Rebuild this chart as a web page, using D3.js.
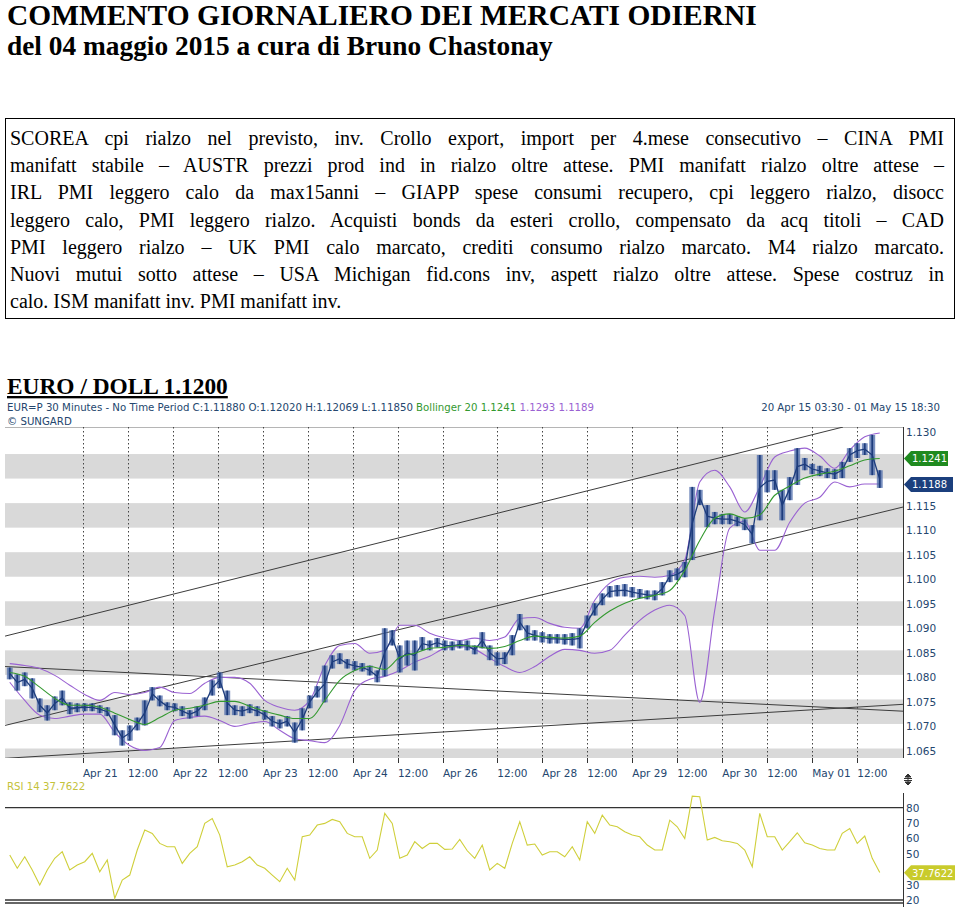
<!DOCTYPE html>
<html>
<head>
<meta charset="utf-8">
<script src="https://cdn.jsdelivr.net/npm/d3@7"></script>
<style>
body { margin: 0; background: #fff; }
</style>
</head>
<body>
<script>
// ---- data ----
var titleLines = ["COMMENTO GIORNALIERO DEI MERCATI ODIERNI", "del 04 maggio 2015 a cura di Bruno Chastonay"];
var bodyLines = [
  "SCOREA cpi rialzo nel previsto, inv. Crollo export, import per 4.mese consecutivo \u2013 CINA PMI",
  "manifatt stabile \u2013 AUSTR prezzi prod ind in rialzo oltre attese. PMI manifatt rialzo oltre attese \u2013",
  "IRL PMI leggero calo da max15anni \u2013 GIAPP spese consumi recupero, cpi leggero rialzo, disocc",
  "leggero calo, PMI leggero rialzo. Acquisti bonds da esteri crollo, compensato da acq titoli \u2013 CAD",
  "PMI leggero rialzo \u2013 UK PMI calo marcato, crediti consumo rialzo marcato. M4 rialzo marcato.",
  "Nuovi mutui sotto attese \u2013 USA Michigan fid.cons inv, aspett rialzo oltre attese. Spese costruz in",
  "calo. ISM manifatt inv. PMI manifatt inv."
];
var sectionTitle = "EURO / DOLL 1.1200";

// x axis: 30-minute bar index (20 Apr 03:30 = 0)
var tickIdx = [41, 65, 89, 113, 137, 161, 185, 209, 233, 262, 286, 310, 334, 358, 382, 406, 430, 454];
var tickLabels = ["Apr 21", "12:00", "Apr 22", "12:00", "Apr 23", "12:00", "Apr 24", "12:00", "Apr 26",
  "12:00", "Apr 28", "12:00", "Apr 29", "12:00", "Apr 30", "12:00", "May 01", "12:00"];
var priceTicks = [1.130, 1.125, 1.120, 1.115, 1.110, 1.105, 1.100, 1.095, 1.090, 1.085, 1.080, 1.075, 1.070, 1.065];
var rsiTicks = [80, 70, 60, 50, 40, 30, 20];

// 2-hour highs / lows (4 bars each)
var hi = [1.0815,1.0801,1.0805,1.0793,1.0752,1.0738,1.0756,1.0768,1.0744,1.0742,
  1.0742,1.0742,1.0738,1.0734,1.0718,1.0687,1.0697,1.0713,1.0748,1.0775,
  1.0758,1.0744,1.0742,1.0736,1.0728,1.0736,1.0754,1.0789,1.0805,1.0768,
  1.0738,1.0736,1.0740,1.0736,1.0728,1.0716,1.0709,1.0716,1.0703,1.0732,
  1.0758,1.0777,1.0819,1.0840,1.0844,1.0832,1.0828,1.0824,1.0819,1.0809,
  1.0895,1.0891,1.0860,1.0870,1.0870,1.0877,1.0870,1.0875,1.0870,1.0868,
  1.0870,1.0870,1.0860,1.0887,1.0860,1.0846,1.0846,1.0881,1.0924,1.0901,
  1.0891,1.0887,1.0883,1.0883,1.0883,1.0885,1.0895,1.0921,1.0946,1.0966,
  1.0981,1.0983,1.0985,1.0979,1.0975,1.0972,1.0972,1.0989,1.1013,1.1017,
  1.1030,1.1183,1.1177,1.1146,1.1132,1.1128,1.1128,1.1123,1.1117,1.1105,
  1.1248,1.1217,1.1217,1.1177,1.1203,1.1262,1.1242,1.1230,1.1226,1.1221,
  1.1219,1.1234,1.1262,1.1272,1.1272,1.1289,1.1217];
var lo = [1.0791,1.0768,1.0777,1.0752,1.0724,1.0707,1.0728,1.0738,1.0720,1.0724,
  1.0726,1.0726,1.0722,1.0716,1.0677,1.0656,1.0666,1.0687,1.0697,1.0748,
  1.0736,1.0728,1.0726,1.0716,1.0711,1.0716,1.0728,1.0758,1.0773,1.0718,
  1.0718,1.0716,1.0722,1.0716,1.0709,1.0695,1.0691,1.0695,1.0662,1.0687,
  1.0732,1.0754,1.0744,1.0813,1.0822,1.0813,1.0809,1.0807,1.0799,1.0785,
  1.0797,1.0860,1.0805,1.0819,1.0809,1.0850,1.0850,1.0856,1.0850,1.0850,
  1.0854,1.0850,1.0842,1.0854,1.0830,1.0819,1.0822,1.0840,1.0891,1.0870,
  1.0870,1.0866,1.0864,1.0864,1.0862,1.0860,1.0854,1.0895,1.0921,1.0942,
  1.0958,1.0960,1.0960,1.0958,1.0956,1.0954,1.0952,1.0962,1.0989,1.0993,
  1.0999,1.1034,1.1146,1.1101,1.1107,1.1107,1.1107,1.1103,1.1095,1.1068,
  1.1115,1.1172,1.1177,1.1115,1.1156,1.1187,1.1217,1.1209,1.1205,1.1201,
  1.1199,1.1201,1.1234,1.1242,1.1248,1.1207,1.1181];

// Bollinger 20, every 4 hours (8 bars)
var bbUpper = [1.0823,1.0819,1.0813,1.0799,1.0779,1.0760,1.0748,1.0764,1.0760,1.0764,
  1.0775,1.0764,1.0762,1.0783,1.0795,1.0795,1.0783,1.0748,1.0734,1.0728,
  1.0748,1.0819,1.0860,1.0864,1.0844,1.0850,1.0901,1.0901,1.0885,1.0875,
  1.0870,1.0875,1.0870,1.0877,1.0915,1.0917,1.0905,1.0897,1.0895,1.0952,
  1.0987,1.0999,1.1001,1.0999,1.1003,1.1034,1.1193,1.1217,1.1183,1.1132,
  1.1183,1.1244,1.1256,1.1262,1.1246,1.1221,1.1258,1.1285,1.1293];
var bbMid = [1.0805,1.0797,1.0775,1.0752,1.0738,1.0738,1.0734,1.0722,1.0709,1.0699,
  1.0713,1.0728,1.0732,1.0738,1.0746,1.0746,1.0736,1.0726,1.0718,1.0711,
  1.0711,1.0748,1.0789,1.0809,1.0817,1.0811,1.0836,1.0844,1.0854,1.0856,
  1.0860,1.0858,1.0854,1.0858,1.0870,1.0879,1.0877,1.0875,1.0879,1.0907,
  1.0930,1.0946,1.0956,1.0962,1.0972,1.1013,1.1074,1.1119,1.1128,1.1119,
  1.1126,1.1166,1.1185,1.1201,1.1209,1.1215,1.1226,1.1238,1.1241];
var bbLower = [1.0785,1.0748,1.0718,1.0711,1.0716,1.0720,1.0720,1.0683,1.0656,1.0646,
  1.0652,1.0707,1.0713,1.0716,1.0707,1.0695,1.0701,1.0705,1.0687,1.0670,
  1.0666,1.0662,1.0697,1.0768,1.0791,1.0797,1.0809,1.0826,1.0838,1.0854,
  1.0858,1.0852,1.0834,1.0817,1.0805,1.0817,1.0838,1.0852,1.0850,1.0844,
  1.0850,1.0881,1.0911,1.0932,1.0942,1.0921,1.0744,1.0932,1.1099,1.1113,
  1.1054,1.1054,1.1111,1.1150,1.1162,1.1193,1.1183,1.1189,1.1189];

// RSI 14, every 2 hours
var rsi = [49.2,40.6,48.1,39.5,29.7,39.5,47.1,51.4,39.5,42.7,
  44.9,50.3,38.4,46.0,21.1,33.0,36.2,52.5,65.5,63.3,
  56.8,54.6,54.6,43.8,50.3,54.6,69.8,73.0,62.2,41.6,
  42.7,44.9,48.1,42.7,40.6,36.2,31.9,40.6,33.0,61.1,
  62.2,68.7,69.8,72.4,70.9,63.3,61.1,61.1,47.1,52.5,
  76.3,69.8,47.1,49.2,57.9,53.5,56.8,56.8,52.9,53.1,
  59.4,52.0,47.1,55.7,39.5,43.8,40.6,56.8,70.9,55.7,
  56.4,49.2,51.4,51.4,48.1,54.6,46.0,70.9,63.3,75.2,
  68.7,67.6,64.4,62.2,61.1,55.7,52.5,52.5,71.9,67.6,
  60.0,87.5,87.1,59.0,60.7,58.5,57.9,56.8,52.5,41.6,
  76.3,61.1,61.1,52.5,57.9,63.7,57.2,55.7,53.5,52.5,
  52.5,63.3,66.5,56.8,61.6,47.1,37.8];

// trend lines [barIndex, price]
var trendLines = [
  [[-0.5, 1.0879], [446.4, 1.1305]],
  [[-0.5, 1.0697], [478.4, 1.1142]],
  [[-0.5, 1.0817], [478.4, 1.0726]],
  [[-0.5, 1.0630], [478.4, 1.0740]]
];
var lastClose = 1.1188, lastMid = 1.1241, lastRsi = 37.7622;

// ---- drawing ----
var serif = "'Liberation Serif', 'Times New Roman', serif";
var sans = "'DejaVu Sans', Verdana, sans-serif";
var navy = "#24466e", green = "#33992f", purple = "#9a62d2", rsiCol = "#cfcf3a";

var svg = d3.select("body").append("svg").attr("width", 960).attr("height", 907)
  .style("display", "block");

function fit(t, w) {
  var L = t.node().getComputedTextLength();
  var fs = parseFloat(t.style("font-size"));
  t.style("font-size", (fs * w / L) + "px");
}

var t1 = svg.append("text").attr("x", 7).attr("y", 25)
  .style("font-family", serif).style("font-weight", "bold").style("font-size", "26px")
  .text(titleLines[0]);
fit(t1, 750);
var t2 = svg.append("text").attr("x", 7).attr("y", 55)
  .style("font-family", serif).style("font-weight", "bold").style("font-size", "23px")
  .text(titleLines[1]);
fit(t2, 546);

svg.append("rect").attr("x", 5.5).attr("y", 118.5).attr("width", 949).attr("height", 200)
  .attr("fill", "none").attr("stroke", "#000").attr("stroke-width", 1);

// justified paragraph: stretch word gaps only
svg.selectAll(".body").data(bodyLines).enter().append("text")
  .attr("class", "body")
  .attr("x", 10)
  .attr("y", function(d, i) { return 145 + i * 27.2; })
  .style("font-family", serif).style("font-size", "20px")
  .text(function(d) { return d; })
  .each(function(d, i) {
    if (i < bodyLines.length - 1) {
      var L = this.getComputedTextLength();
      var gaps = d.split(" ").length - 1;
      d3.select(this).style("word-spacing", ((934 - L) / gaps) + "px");
    }
  });

var st = svg.append("text").attr("x", 7).attr("y", 394)
  .style("font-family", serif).style("font-weight", "bold").style("font-size", "22px")
  .style("text-decoration", "underline")
  .text(sectionTitle);
fit(st, 221);

// chart header
var hdr = svg.append("text").attr("x", 7).attr("y", 411)
  .style("font-family", sans).style("font-size", "10.2px").attr("fill", navy);
hdr.append("tspan").text("EUR=P 30 Minutes -  No Time Period   C:1.11880 O:1.12020 H:1.12069 L:1.11850 ");
hdr.append("tspan").attr("fill", green).text("Bollinger 20 " + lastMid.toFixed(4) + " ");
hdr.append("tspan").attr("fill", purple).text("1.1293 1.1189");
svg.append("text").attr("x", 940).attr("y", 411).attr("text-anchor", "end")
  .style("font-family", sans).style("font-size", "10.2px").attr("fill", navy)
  .text("20 Apr 15 03:30  -  01 May 15 18:30");
svg.append("text").attr("x", 7).attr("y", 425)
  .style("font-family", sans).style("font-size", "10.2px").attr("fill", navy)
  .text("\u00a9 SUNGARD");

// scales
var plotL = 5, plotR = 903, plotT = 427, plotB = 758;
var x = d3.scaleLinear().domain([0, 468]).range([6, 6 + 468 * 1.875]);
var y = d3.scaleLinear().domain([1.065, 1.130]).range([748.5, 429.5]);
var ry = d3.scaleLinear().domain([20, 80]).range([900, 807.7]);

var price = svg.append("g");
price.append("clipPath").attr("id", "clipP").append("rect")
  .attr("x", plotL).attr("y", plotT).attr("width", plotR - plotL).attr("height", plotB - plotT);

// grey bands
var bandLows = [1.120, 1.110, 1.100, 1.090, 1.080, 1.070, y.invert(plotB)];
price.selectAll(".band").data(bandLows).enter().append("rect")
  .attr("x", plotL).attr("width", plotR - plotL)
  .attr("y", function(d, i) { return i === bandLows.length - 1 ? y(1.065) : y(d + 0.005); })
  .attr("height", function(d, i) { return i === bandLows.length - 1 ? plotB - y(1.065) : y(d) - y(d + 0.005); })
  .attr("fill", "#d9d9d9");

price.append("line").attr("x1", plotL).attr("x2", plotR).attr("y1", plotT + 0.5).attr("y2", plotT + 0.5)
  .attr("stroke", "#b5b5b5");

// dotted verticals
price.selectAll(".vg").data(tickIdx).enter().append("line")
  .attr("x1", function(d) { return Math.round(x(d)) + 0.5; })
  .attr("x2", function(d) { return Math.round(x(d)) + 0.5; })
  .attr("y1", plotT).attr("y2", plotB)
  .attr("stroke", "#444").attr("stroke-dasharray", "1.5,2.5");

var pc = price.append("g").attr("clip-path", "url(#clipP)");
pc.selectAll(".tl").data(trendLines).enter().append("line")
  .attr("x1", function(d) { return x(d[0][0]); }).attr("y1", function(d) { return y(d[0][1]); })
  .attr("x2", function(d) { return x(d[1][0]); }).attr("y2", function(d) { return y(d[1][1]); })
  .attr("stroke", "#3c3c3c").attr("stroke-width", 1);

var bbX = function(d, j) { return x(8 * j + 2); };
function bbLine(arr, col) {
  pc.append("path").datum(arr)
    .attr("d", d3.line().x(bbX).y(function(d) { return y(d); }).curve(d3.curveMonotoneX))
    .attr("fill", "none").attr("stroke", col).attr("stroke-width", 1.1);
}
bbLine(bbUpper, purple);
bbLine(bbLower, purple);

// price bars: each 2-hour range as a light body plus a dark high-low stick
var barCol = "#1d3c7c";
pc.selectAll(".body").data(hi).enter().append("rect")
  .attr("x", function(d, k) { return x(4 * k) + 0.8; })
  .attr("width", x(4) - x(0) - 1.6)
  .attr("y", function(d, k) { return y(hi[k]); })
  .attr("height", function(d, k) { return Math.max(1.5, y(lo[k]) - y(hi[k])); })
  .attr("fill", "#4a68a8").attr("opacity", 0.75);
pc.append("path").datum(hi)
  .attr("d", d3.line().x(function(d, k) { return x(4 * k + 2); })
    .y(function(d, k) { return y((hi[k] + lo[k]) / 2); }))
  .attr("fill", "none").attr("stroke", barCol).attr("stroke-width", 1.3);
pc.selectAll(".bar").data(hi).enter().append("line")
  .attr("x1", function(d, k) { return x(4 * k + 2); })
  .attr("x2", function(d, k) { return x(4 * k + 2); })
  .attr("y1", function(d, k) { return y(hi[k]); })
  .attr("y2", function(d, k) { return y(lo[k]); })
  .attr("stroke", barCol).attr("stroke-width", 1.8);
bbLine(bbMid, green);

// right axis
price.append("line").attr("x1", plotR + 0.5).attr("x2", plotR + 0.5).attr("y1", plotT).attr("y2", plotB)
  .attr("stroke", "#333");
var tagYs = [y(lastMid), y(lastClose)];
price.selectAll(".pl").data(priceTicks.filter(function(d) {
    return tagYs.every(function(t) { return Math.abs(y(d) - t) > 6; });
  })).enter().append("text")
  .attr("x", 906).attr("y", function(d) { return y(d) + 6.5; })
  .style("font-family", sans).style("font-size", "10.5px").attr("fill", navy)
  .text(function(d) { return d.toFixed(3); });

// bottom ticks & labels
price.selectAll(".xt").data(tickIdx).enter().append("line")
  .attr("x1", function(d) { return Math.round(x(d)) + 0.5; })
  .attr("x2", function(d) { return Math.round(x(d)) + 0.5; })
  .attr("y1", plotB).attr("y2", plotB + 5).attr("stroke", "#333");
price.selectAll(".xl").data(tickIdx).enter().append("text")
  .attr("x", function(d) { return x(d); }).attr("y", 777)
  .style("font-family", sans).style("font-size", "10.5px").attr("fill", navy)
  .text(function(d, i) { return tickLabels[i]; });

function tag(yv, txt, col, w) {
  var g = svg.append("g");
  g.append("path")
    .attr("d", "M" + (plotR + 1) + "," + yv + "L" + (plotR + 8) + "," + (yv - 7.5) + "H" + (plotR + 8 + w) +
      "V" + (yv + 7.5) + "H" + (plotR + 8) + "Z")
    .attr("fill", col);
  g.append("text").attr("x", plotR + 9).attr("y", yv + 4)
    .style("font-family", sans).style("font-size", "10px").attr("fill", "#fff").text(txt);
}
tag(y(lastMid), lastMid.toFixed(4), "#1f8a1f", 37);
tag(y(lastClose), lastClose.toFixed(4), "#1b3f7d", 42);

// resize icon
var ic = svg.append("g").attr("stroke", "#333").attr("fill", "#333");
ic.append("path").attr("d", "M905,777 L908,774 L911,777 Z");
ic.append("path").attr("d", "M905,782 L908,785 L911,782 Z");
ic.append("line").attr("x1", 904).attr("x2", 912).attr("y1", 778.5).attr("y2", 778.5);
ic.append("line").attr("x1", 904).attr("x2", 912).attr("y1", 780.5).attr("y2", 780.5);
ic.append("line").attr("x1", 908).attr("x2", 908).attr("y1", 775).attr("y2", 785).attr("stroke-width", 1);

// RSI panel
svg.append("text").attr("x", 7).attr("y", 790)
  .style("font-family", sans).style("font-size", "10.2px").attr("fill", "#c4c23a")
  .text("RSI 14  " + lastRsi.toFixed(4));
svg.selectAll(".rl").data([80, 20]).enter().append("line")
  .attr("x1", plotL).attr("x2", plotR).attr("y1", function(d) { return ry(d); }).attr("y2", function(d) { return ry(d); })
  .attr("stroke", "#333").attr("stroke-width", 1.3);
svg.append("line").attr("x1", plotL).attr("x2", plotR).attr("y1", 903).attr("y2", 903)
  .attr("stroke", "#333").attr("stroke-width", 1.3);
svg.append("line").attr("x1", plotR + 0.5).attr("x2", plotR + 0.5).attr("y1", 793).attr("y2", 907)
  .attr("stroke", "#333");
svg.append("path").datum(rsi)
  .attr("d", d3.line().x(function(d, k) { return x(4 * k + 2); }).y(function(d) { return ry(d); }))
  .attr("fill", "none").attr("stroke", rsiCol).attr("stroke-width", 1.1);
svg.selectAll(".rt").data(rsiTicks.filter(function(d) { return Math.abs(ry(d) - ry(lastRsi)) > 6; }))
  .enter().append("text")
  .attr("x", 906).attr("y", function(d) { return ry(d) + 4; })
  .style("font-family", sans).style("font-size", "10.5px").attr("fill", navy)
  .text(function(d) { return d; });
tag(ry(lastRsi), lastRsi.toFixed(4), "#c9cb2c", 44);
</script>
</body>
</html>
